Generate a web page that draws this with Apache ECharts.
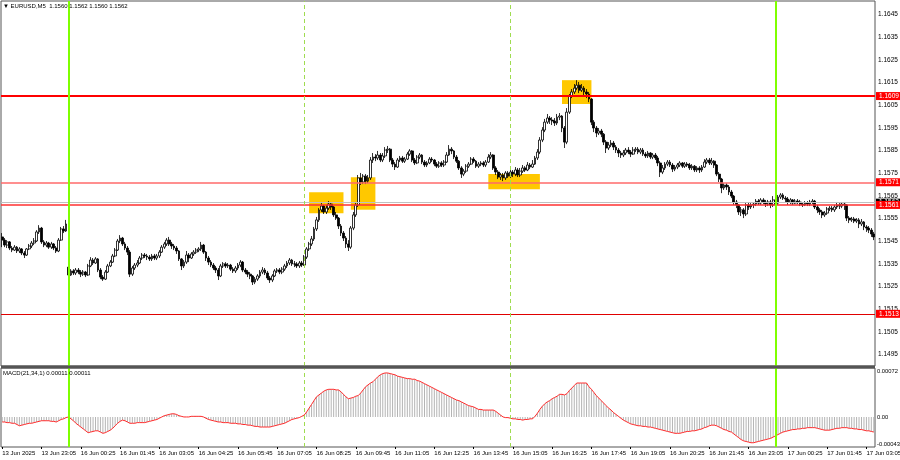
<!DOCTYPE html>
<html><head><meta charset="utf-8">
<script src="https://cdn.jsdelivr.net/npm/echarts@6/dist/echarts.min.js"></script>
<style>html,body{margin:0;padding:0;background:#fff}#c{width:900px;height:460px}</style>
</head><body><div id="c"></div>
<script>
const opens=[
1.15469,1.15455,1.15433,1.15447,1.15420,1.15411,1.15424,1.15407,1.15416,1.15398,
1.15389,1.15416,1.15429,1.15442,1.15451,1.15491,1.15508,1.15447,1.15433,1.15442,
1.15424,1.15438,1.15420,1.15407,1.15455,1.15504,1.15495,1.15336,1.15301,1.15319,
1.15310,1.15323,1.15314,1.15305,1.15314,1.15301,1.15341,1.15367,1.15354,1.15372,
1.15323,1.15292,1.15283,1.15314,1.15341,1.15358,1.15385,1.15411,1.15451,1.15464,
1.15438,1.15420,1.15402,1.15305,1.15332,1.15345,1.15354,1.15376,1.15389,1.15385,
1.15380,1.15372,1.15385,1.15376,1.15385,1.15402,1.15424,1.15438,1.15455,1.15438,
1.15429,1.15420,1.15407,1.15372,1.15341,1.15358,1.15389,1.15376,1.15394,1.15402,
1.15411,1.15416,1.15433,1.15402,1.15376,1.15358,1.15345,1.15332,1.15323,1.15297,
1.15341,1.15350,1.15341,1.15345,1.15327,1.15319,1.15332,1.15345,1.15358,1.15323,
1.15314,1.15305,1.15297,1.15270,1.15283,1.15297,1.15314,1.15323,1.15310,1.15288,
1.15279,1.15297,1.15319,1.15323,1.15314,1.15327,1.15341,1.15354,1.15367,1.15350,
1.15350,1.15341,1.15354,1.15345,1.15380,1.15416,1.15438,1.15460,1.15504,1.15544,
1.15588,1.15605,1.15579,1.15596,1.15614,1.15601,1.15566,1.15552,1.15517,1.15486,
1.15464,1.15438,1.15424,1.15508,1.15566,1.15610,1.15729,1.15711,1.15737,1.15715,
1.15729,1.15808,1.15821,1.15817,1.15830,1.15808,1.15826,1.15852,1.15856,1.15808,
1.15790,1.15777,1.15808,1.15817,1.15803,1.15812,1.15834,1.15848,1.15808,1.15795,
1.15821,1.15830,1.15799,1.15786,1.15795,1.15812,1.15808,1.15790,1.15781,1.15795,
1.15786,1.15799,1.15830,1.15856,1.15848,1.15821,1.15803,1.15773,1.15746,1.15759,
1.15781,1.15790,1.15812,1.15803,1.15781,1.15790,1.15795,1.15786,1.15799,1.15821,
1.15830,1.15773,1.15755,1.15733,1.15742,1.15729,1.15751,1.15737,1.15755,1.15746,
1.15764,1.15742,1.15759,1.15773,1.15764,1.15786,1.15777,1.15790,1.15817,1.15843,
1.15896,1.15940,1.15975,1.15993,1.15984,1.15980,1.15971,1.15997,1.16002,1.15949,
1.15887,1.16019,1.16090,1.16108,1.16125,1.16138,1.16116,1.16125,1.16108,1.16099,
1.16077,1.15975,1.15949,1.15927,1.15936,1.15922,1.15887,1.15861,1.15874,1.15883,
1.15865,1.15852,1.15839,1.15830,1.15839,1.15852,1.15843,1.15834,1.15852,1.15856,
1.15843,1.15852,1.15834,1.15826,1.15839,1.15821,1.15830,1.15817,1.15795,1.15755,
1.15773,1.15790,1.15799,1.15786,1.15768,1.15777,1.15786,1.15795,1.15781,1.15790,
1.15786,1.15773,1.15781,1.15764,1.15773,1.15764,1.15777,1.15799,1.15808,1.15795,
1.15803,1.15786,1.15746,1.15724,1.15685,1.15698,1.15689,1.15667,1.15649,1.15623,
1.15610,1.15579,1.15588,1.15570,1.15610,1.15601,1.15610,1.15614,1.15627,1.15618,
1.15632,1.15623,1.15614,1.15623,1.15610,1.15632,1.15618,1.15645,1.15654,1.15640,
1.15636,1.15623,1.15632,1.15618,1.15627,1.15623,1.15614,1.15610,1.15618,1.15614,
1.15623,1.15627,1.15601,1.15588,1.15579,1.15566,1.15574,1.15592,1.15596,1.15588,
1.15601,1.15610,1.15605,1.15614,1.15610,1.15552,1.15544,1.15548,1.15539,1.15544,
1.15526,1.15535,1.15513,1.15508,1.15499,1.15482];
const highs=[
1.15486,1.15464,1.15455,1.15451,1.15429,1.15433,1.15429,1.15424,1.15420,1.15407,
1.15420,1.15438,1.15451,1.15464,1.15499,1.15521,1.15513,1.15455,1.15451,1.15447,
1.15447,1.15442,1.15429,1.15464,1.15513,1.15517,1.15544,1.15345,1.15327,1.15327,
1.15332,1.15332,1.15323,1.15323,1.15319,1.15350,1.15380,1.15376,1.15380,1.15376,
1.15332,1.15301,1.15323,1.15350,1.15367,1.15394,1.15420,1.15460,1.15477,1.15469,
1.15447,1.15429,1.15411,1.15341,1.15354,1.15367,1.15385,1.15398,1.15398,1.15394,
1.15389,1.15394,1.15394,1.15394,1.15411,1.15433,1.15447,1.15464,1.15469,1.15447,
1.15438,1.15429,1.15411,1.15376,1.15367,1.15407,1.15398,1.15402,1.15411,1.15420,
1.15424,1.15447,1.15438,1.15407,1.15385,1.15367,1.15354,1.15341,1.15332,1.15350,
1.15358,1.15358,1.15354,1.15350,1.15336,1.15341,1.15354,1.15367,1.15363,1.15332,
1.15323,1.15314,1.15301,1.15292,1.15305,1.15323,1.15336,1.15332,1.15319,1.15297,
1.15305,1.15327,1.15332,1.15332,1.15336,1.15350,1.15363,1.15376,1.15372,1.15363,
1.15358,1.15363,1.15363,1.15389,1.15424,1.15447,1.15473,1.15513,1.15557,1.15596,
1.15623,1.15610,1.15610,1.15627,1.15623,1.15605,1.15579,1.15557,1.15526,1.15495,
1.15473,1.15455,1.15517,1.15579,1.15623,1.15742,1.15751,1.15746,1.15746,1.15742,
1.15821,1.15839,1.15834,1.15848,1.15839,1.15839,1.15865,1.15870,1.15861,1.15817,
1.15799,1.15817,1.15826,1.15826,1.15821,1.15843,1.15856,1.15852,1.15817,1.15830,
1.15839,1.15834,1.15808,1.15803,1.15821,1.15821,1.15812,1.15799,1.15803,1.15803,
1.15808,1.15843,1.15874,1.15865,1.15852,1.15830,1.15808,1.15781,1.15768,1.15790,
1.15799,1.15821,1.15821,1.15808,1.15799,1.15803,1.15803,1.15808,1.15834,1.15843,
1.15834,1.15781,1.15764,1.15751,1.15751,1.15759,1.15759,1.15768,1.15764,1.15777,
1.15773,1.15773,1.15786,1.15781,1.15799,1.15795,1.15808,1.15826,1.15856,1.15909,
1.15953,1.15989,1.16011,1.16002,1.15997,1.15993,1.16011,1.16015,1.16006,1.15958,
1.16037,1.16099,1.16121,1.16143,1.16160,1.16152,1.16143,1.16134,1.16121,1.16108,
1.16081,1.15984,1.15958,1.15949,1.15945,1.15927,1.15896,1.15887,1.15896,1.15892,
1.15874,1.15861,1.15848,1.15852,1.15861,1.15865,1.15852,1.15865,1.15865,1.15865,
1.15861,1.15861,1.15843,1.15848,1.15843,1.15839,1.15839,1.15826,1.15803,1.15786,
1.15799,1.15808,1.15808,1.15795,1.15786,1.15795,1.15803,1.15799,1.15799,1.15799,
1.15795,1.15790,1.15786,1.15781,1.15781,1.15786,1.15812,1.15817,1.15817,1.15817,
1.15808,1.15790,1.15755,1.15729,1.15706,1.15706,1.15698,1.15676,1.15654,1.15632,
1.15614,1.15601,1.15596,1.15618,1.15623,1.15618,1.15623,1.15636,1.15636,1.15640,
1.15640,1.15632,1.15632,1.15632,1.15649,1.15645,1.15654,1.15662,1.15662,1.15649,
1.15645,1.15640,1.15636,1.15636,1.15636,1.15632,1.15623,1.15627,1.15627,1.15632,
1.15636,1.15632,1.15610,1.15596,1.15588,1.15583,1.15601,1.15605,1.15605,1.15610,
1.15623,1.15618,1.15623,1.15623,1.15614,1.15561,1.15557,1.15557,1.15552,1.15552,
1.15548,1.15539,1.15521,1.15517,1.15508,1.15491];
const lows=[
1.15424,1.15424,1.15420,1.15411,1.15402,1.15407,1.15398,1.15398,1.15389,1.15376,
1.15385,1.15411,1.15420,1.15433,1.15447,1.15482,1.15438,1.15424,1.15424,1.15416,
1.15416,1.15411,1.15398,1.15402,1.15451,1.15486,1.15491,1.15288,1.15297,1.15301,
1.15301,1.15305,1.15292,1.15297,1.15292,1.15297,1.15336,1.15345,1.15350,1.15314,
1.15283,1.15275,1.15279,1.15310,1.15336,1.15354,1.15380,1.15407,1.15442,1.15429,
1.15411,1.15389,1.15292,1.15297,1.15323,1.15336,1.15350,1.15367,1.15376,1.15367,
1.15363,1.15363,1.15367,1.15367,1.15376,1.15398,1.15416,1.15429,1.15429,1.15416,
1.15411,1.15394,1.15363,1.15323,1.15332,1.15350,1.15358,1.15372,1.15385,1.15394,
1.15402,1.15407,1.15394,1.15363,1.15345,1.15336,1.15323,1.15310,1.15279,1.15292,
1.15332,1.15332,1.15332,1.15319,1.15310,1.15310,1.15323,1.15336,1.15314,1.15305,
1.15292,1.15283,1.15257,1.15261,1.15275,1.15288,1.15305,1.15301,1.15279,1.15266,
1.15270,1.15292,1.15310,1.15305,1.15305,1.15319,1.15332,1.15345,1.15341,1.15336,
1.15332,1.15332,1.15336,1.15341,1.15372,1.15407,1.15429,1.15451,1.15495,1.15535,
1.15579,1.15570,1.15570,1.15588,1.15588,1.15557,1.15544,1.15504,1.15473,1.15451,
1.15420,1.15407,1.15416,1.15499,1.15557,1.15601,1.15698,1.15702,1.15702,1.15706,
1.15720,1.15795,1.15803,1.15808,1.15799,1.15799,1.15817,1.15839,1.15799,1.15777,
1.15764,1.15773,1.15799,1.15795,1.15795,1.15808,1.15826,1.15799,1.15786,1.15790,
1.15812,1.15790,1.15777,1.15777,1.15790,1.15799,1.15781,1.15773,1.15773,1.15777,
1.15777,1.15795,1.15826,1.15834,1.15812,1.15795,1.15764,1.15729,1.15737,1.15751,
1.15773,1.15786,1.15795,1.15773,1.15773,1.15781,1.15777,1.15777,1.15795,1.15812,
1.15764,1.15742,1.15724,1.15720,1.15715,1.15720,1.15729,1.15729,1.15733,1.15737,
1.15733,1.15733,1.15751,1.15755,1.15759,1.15768,1.15773,1.15786,1.15808,1.15834,
1.15887,1.15931,1.15967,1.15967,1.15962,1.15958,1.15962,1.15984,1.15931,1.15861,
1.15878,1.16011,1.16081,1.16099,1.16116,1.16103,1.16108,1.16094,1.16081,1.16063,
1.15962,1.15931,1.15909,1.15918,1.15909,1.15874,1.15839,1.15852,1.15865,1.15852,
1.15839,1.15821,1.15817,1.15821,1.15830,1.15834,1.15821,1.15830,1.15843,1.15834,
1.15834,1.15826,1.15817,1.15817,1.15812,1.15812,1.15808,1.15781,1.15733,1.15746,
1.15764,1.15781,1.15777,1.15755,1.15759,1.15768,1.15777,1.15773,1.15773,1.15777,
1.15764,1.15764,1.15755,1.15755,1.15751,1.15755,1.15773,1.15790,1.15786,1.15786,
1.15773,1.15737,1.15711,1.15662,1.15676,1.15676,1.15654,1.15640,1.15610,1.15596,
1.15566,1.15561,1.15552,1.15561,1.15588,1.15592,1.15596,1.15605,1.15610,1.15610,
1.15614,1.15601,1.15605,1.15596,1.15601,1.15596,1.15610,1.15636,1.15632,1.15623,
1.15610,1.15614,1.15610,1.15614,1.15614,1.15605,1.15601,1.15605,1.15605,1.15605,
1.15614,1.15592,1.15574,1.15566,1.15552,1.15557,1.15566,1.15583,1.15579,1.15579,
1.15592,1.15592,1.15596,1.15588,1.15539,1.15530,1.15535,1.15530,1.15530,1.15508,
1.15517,1.15499,1.15491,1.15486,1.15469,1.15455];
const closes=[
1.15455,1.15433,1.15447,1.15420,1.15411,1.15424,1.15407,1.15416,1.15398,1.15389,
1.15416,1.15429,1.15442,1.15451,1.15491,1.15508,1.15447,1.15433,1.15442,1.15424,
1.15438,1.15420,1.15407,1.15455,1.15504,1.15495,1.15526,1.15301,1.15319,1.15310,
1.15323,1.15314,1.15305,1.15314,1.15301,1.15341,1.15367,1.15354,1.15372,1.15323,
1.15292,1.15283,1.15314,1.15341,1.15358,1.15385,1.15411,1.15451,1.15464,1.15438,
1.15420,1.15402,1.15305,1.15332,1.15345,1.15354,1.15376,1.15389,1.15385,1.15380,
1.15372,1.15385,1.15376,1.15385,1.15402,1.15424,1.15438,1.15455,1.15438,1.15429,
1.15420,1.15407,1.15372,1.15341,1.15358,1.15389,1.15376,1.15394,1.15402,1.15411,
1.15416,1.15433,1.15402,1.15376,1.15358,1.15345,1.15332,1.15323,1.15297,1.15341,
1.15350,1.15341,1.15345,1.15327,1.15319,1.15332,1.15345,1.15358,1.15323,1.15314,
1.15305,1.15297,1.15270,1.15283,1.15297,1.15314,1.15323,1.15310,1.15288,1.15279,
1.15297,1.15319,1.15323,1.15314,1.15327,1.15341,1.15354,1.15367,1.15350,1.15350,
1.15341,1.15354,1.15345,1.15380,1.15416,1.15438,1.15460,1.15504,1.15544,1.15588,
1.15605,1.15579,1.15596,1.15614,1.15601,1.15566,1.15552,1.15517,1.15486,1.15464,
1.15438,1.15424,1.15508,1.15566,1.15610,1.15729,1.15711,1.15737,1.15715,1.15729,
1.15808,1.15821,1.15817,1.15830,1.15808,1.15826,1.15852,1.15856,1.15808,1.15790,
1.15777,1.15808,1.15817,1.15803,1.15812,1.15834,1.15848,1.15808,1.15795,1.15821,
1.15830,1.15799,1.15786,1.15795,1.15812,1.15808,1.15790,1.15781,1.15795,1.15786,
1.15799,1.15830,1.15856,1.15848,1.15821,1.15803,1.15773,1.15746,1.15759,1.15781,
1.15790,1.15812,1.15803,1.15781,1.15790,1.15795,1.15786,1.15799,1.15821,1.15830,
1.15773,1.15755,1.15733,1.15742,1.15729,1.15751,1.15737,1.15755,1.15746,1.15764,
1.15742,1.15759,1.15773,1.15764,1.15786,1.15777,1.15790,1.15817,1.15843,1.15896,
1.15940,1.15975,1.15993,1.15984,1.15980,1.15971,1.15997,1.16002,1.15949,1.15887,
1.16019,1.16090,1.16108,1.16125,1.16138,1.16116,1.16125,1.16108,1.16099,1.16077,
1.15975,1.15949,1.15927,1.15936,1.15922,1.15887,1.15861,1.15874,1.15883,1.15865,
1.15852,1.15839,1.15830,1.15839,1.15852,1.15843,1.15834,1.15852,1.15856,1.15843,
1.15852,1.15834,1.15826,1.15839,1.15821,1.15830,1.15817,1.15795,1.15755,1.15773,
1.15790,1.15799,1.15786,1.15768,1.15777,1.15786,1.15795,1.15781,1.15790,1.15786,
1.15773,1.15781,1.15764,1.15773,1.15764,1.15777,1.15799,1.15808,1.15795,1.15803,
1.15786,1.15746,1.15724,1.15685,1.15698,1.15689,1.15667,1.15649,1.15623,1.15610,
1.15579,1.15588,1.15570,1.15610,1.15601,1.15610,1.15614,1.15627,1.15618,1.15632,
1.15623,1.15614,1.15623,1.15610,1.15632,1.15618,1.15645,1.15654,1.15640,1.15636,
1.15623,1.15632,1.15618,1.15627,1.15623,1.15614,1.15610,1.15618,1.15614,1.15623,
1.15627,1.15601,1.15588,1.15579,1.15566,1.15574,1.15592,1.15596,1.15588,1.15601,
1.15610,1.15605,1.15614,1.15610,1.15552,1.15544,1.15548,1.15539,1.15544,1.15526,
1.15535,1.15513,1.15508,1.15499,1.15482,1.15469];
const macd=[
-0.00008,-0.00008,-0.00009,-0.00009,-0.00010,-0.00010,-0.00012,-0.00014,-0.00013,-0.00012,
-0.00011,-0.00010,-0.00010,-0.00009,-0.00008,-0.00007,-0.00006,-0.00006,-0.00006,-0.00006,
-0.00007,-0.00007,-0.00008,-0.00006,-0.00004,-0.00003,-0.00001,0.00000,-0.00003,-0.00006,
-0.00010,-0.00013,-0.00016,-0.00019,-0.00022,-0.00025,-0.00024,-0.00023,-0.00022,-0.00022,
-0.00024,-0.00026,-0.00025,-0.00023,-0.00021,-0.00018,-0.00014,-0.00010,-0.00007,-0.00005,
-0.00006,-0.00008,-0.00010,-0.00010,-0.00010,-0.00009,-0.00009,-0.00009,-0.00009,-0.00008,
-0.00007,-0.00006,-0.00005,-0.00004,-0.00002,0.00000,0.00002,0.00003,0.00004,0.00005,
0.00005,0.00004,0.00002,0.00001,0.00000,0.00000,0.00000,0.00001,0.00001,0.00001,
0.00001,0.00001,0.00000,-0.00002,-0.00004,-0.00005,-0.00006,-0.00007,-0.00008,-0.00008,
-0.00009,-0.00009,-0.00009,-0.00010,-0.00010,-0.00010,-0.00011,-0.00011,-0.00012,-0.00012,
-0.00013,-0.00013,-0.00014,-0.00015,-0.00015,-0.00016,-0.00016,-0.00016,-0.00016,-0.00016,
-0.00015,-0.00014,-0.00013,-0.00012,-0.00011,-0.00010,-0.00008,-0.00006,-0.00004,-0.00003,
-0.00002,-0.00001,0.00001,0.00003,0.00008,0.00014,0.00020,0.00026,0.00032,0.00035,
0.00038,0.00041,0.00043,0.00044,0.00044,0.00044,0.00043,0.00043,0.00040,0.00036,
0.00032,0.00029,0.00030,0.00031,0.00033,0.00034,0.00038,0.00043,0.00048,0.00051,
0.00054,0.00056,0.00060,0.00064,0.00067,0.00069,0.00070,0.00070,0.00069,0.00068,
0.00067,0.00065,0.00064,0.00063,0.00062,0.00061,0.00061,0.00060,0.00060,0.00058,
0.00057,0.00055,0.00053,0.00051,0.00049,0.00047,0.00045,0.00043,0.00041,0.00039,
0.00037,0.00035,0.00033,0.00031,0.00029,0.00027,0.00026,0.00024,0.00022,0.00020,
0.00018,0.00017,0.00016,0.00014,0.00012,0.00012,0.00011,0.00011,0.00011,0.00011,
0.00011,0.00009,0.00006,0.00003,0.00000,-0.00001,-0.00001,-0.00002,-0.00003,-0.00003,
-0.00004,-0.00004,-0.00005,-0.00004,-0.00004,-0.00003,-0.00003,0.00001,0.00006,0.00012,
0.00017,0.00021,0.00024,0.00026,0.00029,0.00031,0.00033,0.00036,0.00036,0.00035,
0.00037,0.00042,0.00046,0.00050,0.00054,0.00054,0.00054,0.00054,0.00054,0.00048,
0.00044,0.00039,0.00034,0.00030,0.00026,0.00022,0.00018,0.00014,0.00011,0.00007,
0.00004,0.00001,-0.00002,-0.00005,-0.00007,-0.00009,-0.00011,-0.00012,-0.00013,-0.00014,
-0.00014,-0.00015,-0.00015,-0.00016,-0.00016,-0.00017,-0.00018,-0.00019,-0.00020,-0.00021,
-0.00022,-0.00023,-0.00024,-0.00025,-0.00026,-0.00026,-0.00026,-0.00025,-0.00024,-0.00023,
-0.00023,-0.00022,-0.00022,-0.00021,-0.00020,-0.00019,-0.00017,-0.00016,-0.00014,-0.00013,
-0.00013,-0.00014,-0.00016,-0.00018,-0.00020,-0.00021,-0.00023,-0.00024,-0.00027,-0.00030,
-0.00033,-0.00036,-0.00038,-0.00039,-0.00040,-0.00041,-0.00041,-0.00040,-0.00039,-0.00038,
-0.00037,-0.00036,-0.00035,-0.00034,-0.00032,-0.00030,-0.00028,-0.00026,-0.00024,-0.00023,
-0.00022,-0.00021,-0.00020,-0.00020,-0.00019,-0.00019,-0.00018,-0.00018,-0.00017,-0.00017,
-0.00017,-0.00017,-0.00018,-0.00019,-0.00020,-0.00021,-0.00021,-0.00021,-0.00020,-0.00019,
-0.00018,-0.00018,-0.00017,-0.00017,-0.00017,-0.00018,-0.00018,-0.00019,-0.00019,-0.00020,
-0.00020,-0.00021,-0.00022,-0.00022,-0.00023,-0.00024];
const tickLabels=['13 Jun 2025','13 Jun 23:05','16 Jun 00:25','16 Jun 01:45','16 Jun 03:05','16 Jun 04:25','16 Jun 05:45','16 Jun 07:05','16 Jun 08:25','16 Jun 09:45','16 Jun 11:05','16 Jun 12:25','16 Jun 13:45','16 Jun 15:05','16 Jun 16:25','16 Jun 17:45','16 Jun 19:05','16 Jun 20:25','16 Jun 21:45','16 Jun 23:05','17 Jun 00:25','17 Jun 01:45','17 Jun 03:05'];
const tickEvery=16;
const levelPrices=[1.1609,1.1571,1.1561,1.1513];
const bidPrice=1.1562;
const zoneStart=[125,142,198,228];
const zoneEnd=[139,152,219,240];
const zoneTop=[1.15666,1.15732,1.15746,1.16160];
const zoneBottom=[1.15573,1.15589,1.15679,1.16055];
const dayLines=[27,315];
const sessionLines=[123,207];
const titleText='\u25BC EURUSD,M5  1.1560 1.1562 1.1560 1.1562';
const macdTitle='MACD(21,34,1) 0.00011 0.00011';
const macdTickLabels={max:'0.00072',zero:'0.00',min:'-0.00043'};

const N=closes.length;
const cats=[];for(let i=0;i<N;i++)cats.push(String(i));
const F='"Liberation Sans",Arial,sans-serif';
const FS=6;
const lens=[opens.length,highs.length,lows.length,closes.length,macd.length];
const chart=echarts.init(document.getElementById('c'),null,{renderer:'canvas'});
const levelStyles=[
 {color:'#FF0000',width:2},{color:'#FF6A6A',width:1.5},{color:'#FF3030',width:1.5},{color:'#E00000',width:1}
];
const labelFn=(idx)=>idx%tickEvery===0;
const vLines=()=>[].concat(
 dayLines.map(x=>({xAxis:x,lineStyle:{color:'#7FFF00',width:2,type:'solid'}})),
 sessionLines.map(x=>({xAxis:x,lineStyle:{color:'#9FDC50',width:1,type:[4,3]}}))
);
const tagLabel=(txt,bg)=>({show:true,position:'end',distance:1,formatter:()=>txt,color:'#fff',backgroundColor:bg,padding:[1,3,0,3],fontSize:FS+0.5,fontFamily:F});
const hLines=[{yAxis:bidPrice,lineStyle:{color:'#C0C0C0',width:1,type:'solid'},label:tagLabel(bidPrice.toFixed(4),'#000')}]
 .concat(levelPrices.map((p,k)=>({yAxis:p,lineStyle:Object.assign({type:'solid'},levelStyles[k]),label:tagLabel(p.toFixed(4),'#FF0000')})));
const option={
 animation:false,
 backgroundColor:'#fff',
 title:[
  {text:titleText,left:3,top:3.5,padding:0,textStyle:{fontSize:FS,fontWeight:'normal',color:'#000',fontFamily:F}},
  {text:macdTitle,left:3,top:370.5,padding:0,textStyle:{fontSize:FS,fontWeight:'normal',color:'#000',fontFamily:F}},
  {text:(lens.every(l=>l===N)?'':'LEN MISMATCH '+lens.join(',')),left:300,top:200,textStyle:{color:'red',fontSize:20}}
 ],
 grid:[
  {left:1,top:1,width:874,height:365,show:true,borderColor:'#555',borderWidth:1,backgroundColor:'#fff',outerBoundsMode:'none',containLabel:false},
  {left:1,top:368,width:874,height:79,show:true,borderColor:'#555',borderWidth:1,outerBoundsMode:'none',containLabel:false},
  {left:1,top:371.7,width:874,height:72.3,outerBoundsMode:'none',containLabel:false}
 ],
 xAxis:[
  {gridIndex:0,type:'category',data:cats,boundaryGap:true,axisLine:{show:false},axisTick:{show:false},axisLabel:{show:false},splitLine:{show:false}},
  {gridIndex:1,type:'category',data:cats,boundaryGap:true,position:'bottom',axisLine:{show:false},
   axisTick:{show:true,interval:labelFn,alignWithLabel:true,length:2,lineStyle:{color:'#000'}},
   axisLabel:{show:true,interval:labelFn,align:'left',margin:3,fontSize:6,color:'#000',fontFamily:F,
    formatter:(v,idx)=>tickLabels[Math.round(idx/tickEvery)]||''},splitLine:{show:false}},
  {gridIndex:2,type:'category',data:cats,boundaryGap:true,show:false}
 ],
 yAxis:[
  {gridIndex:0,type:'value',position:'right',min:1.149,max:1.16509,interval:0.0005,
   axisLine:{show:false},axisTick:{show:false},splitLine:{show:false},
   axisLabel:{margin:3,fontSize:FS+0.5,color:'#000',fontFamily:F,showMaxLabel:true,
    formatter:v=>{const k=Math.round(v*10000);return (k%10===5)?(k/10000).toFixed(4):'';}}},
  {gridIndex:1,type:'value',min:0,max:1,show:false},
  {gridIndex:2,type:'value',position:'right',min:-0.00043,max:0.00072,interval:0.00043,
   axisLine:{show:false},axisTick:{show:false},splitLine:{show:false},
   axisLabel:{margin:2,fontSize:5.8,color:'#000',fontFamily:F,showMaxLabel:true,showMinLabel:true,
    formatter:v=>{if(Math.abs(v-0.00072)<1e-7)return macdTickLabels.max;if(Math.abs(v)<1e-7)return macdTickLabels.zero;if(Math.abs(v+0.00043)<1e-7)return macdTickLabels.min;return '';}}}
 ],
 series:[
  {type:'line',xAxisIndex:0,yAxisIndex:0,data:[],z:1,silent:true,
   markArea:{silent:true,itemStyle:{color:'#FFC800'},
    data:zoneStart.map((s,k)=>[{xAxis:s,yAxis:zoneTop[k]},{xAxis:zoneEnd[k],yAxis:zoneBottom[k]}])}},
  {type:'candlestick',xAxisIndex:0,yAxisIndex:0,z:3,silent:true,barWidth:2.3,
   data:opens.map((o,i)=>[o,closes[i],lows[i],highs[i]]),
   itemStyle:{color:'#ffffff',color0:'#000000',borderColor:'#000000',borderColor0:'#000000',borderWidth:0.8}},
  {type:'line',xAxisIndex:0,yAxisIndex:0,data:[],z:4,silent:true,
   markLine:{silent:true,symbol:'none',animation:false,precision:5,data:hLines}},
  {type:'line',xAxisIndex:0,yAxisIndex:0,data:[],z:5,silent:true,
   markLine:{silent:true,symbol:'none',animation:false,label:{show:false},data:vLines()}},
  {type:'bar',xAxisIndex:2,yAxisIndex:2,data:macd,barWidth:1,z:2,silent:true,itemStyle:{color:'#B4B4B4'}},
  {type:'line',xAxisIndex:2,yAxisIndex:2,data:macd,z:3,silent:true,showSymbol:false,symbol:'none',
   lineStyle:{color:'#FF2A2A',width:1}},
  {type:'line',xAxisIndex:1,yAxisIndex:1,data:[],z:5,silent:true,
   markLine:{silent:true,symbol:'none',animation:false,label:{show:false},data:vLines()}}
 ],
 graphic:[{type:'rect',shape:{x:1,y:365.5,width:874,height:3},style:{fill:'#555'},z:100}]
};
chart.setOption(option);
</script></body></html>
